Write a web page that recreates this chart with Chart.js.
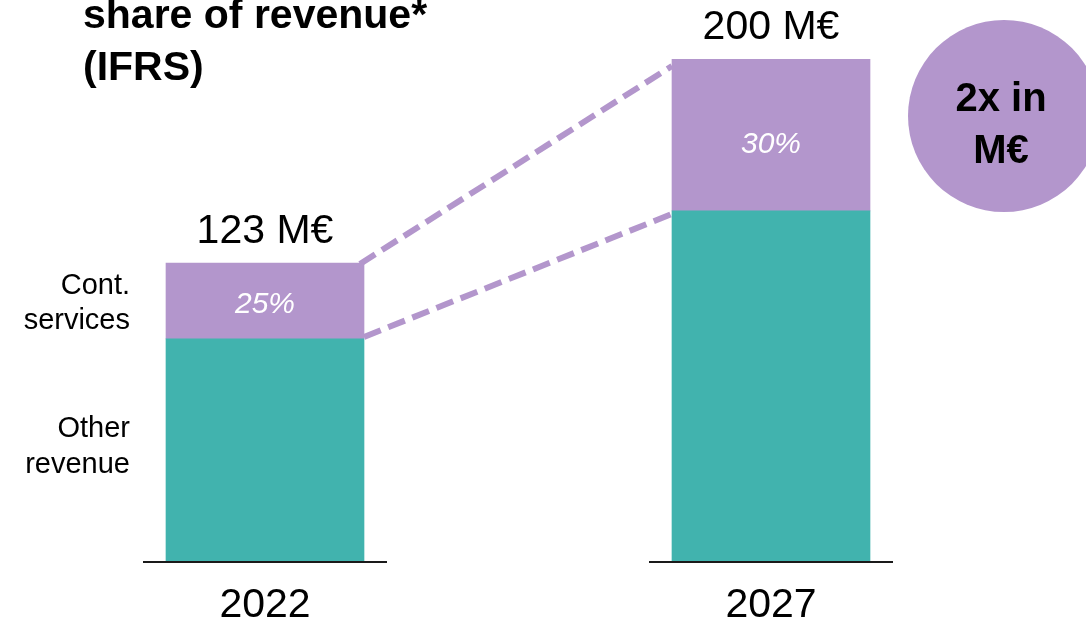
<!DOCTYPE html>
<html><head><meta charset="utf-8">
<script src="https://cdn.jsdelivr.net/npm/chart.js@4"></script>
<style>html,body{margin:0;padding:0;background:#fff;overflow:hidden;} canvas{display:block;}</style>
</head><body>
<canvas id="c" width="1086" height="620"></canvas>
<script>
const categories = ['2022', '2027'];
const otherRevenue = [88.7, 139.6];
const contServices = [30.2, 60.4];
const totalLabels = ['123 M€', '200 M€'];
const shareLabels = ['25%', '30%'];
const seriesNames = ['Other revenue', 'Cont. services'];
const seriesLabelLines = [['Other', 'revenue'], ['Cont.', 'services']];
const titleLines = ['share of revenue*', '(IFRS)'];
const badgeLines = ['2x in', 'M€'];
const yMax = 200;

const TEAL = '#41B3AE', PURPLE = '#B396CC';
const FONT = '"Liberation Sans", Arial, Helvetica, sans-serif';

const overlay = {
  id: 'overlay',
  beforeDraw(chart) {
    const ctx = chart.ctx;
    ctx.save();
    ctx.fillStyle = '#fff';
    ctx.fillRect(0, 0, chart.width, chart.height);
    ctx.fillStyle = '#000';
    ctx.font = 'bold 41px ' + FONT;
    ctx.textAlign = 'left';
    ctx.textBaseline = 'alphabetic';
    ctx.fillText(titleLines[0], 83, 28);
    ctx.fillText(titleLines[1], 83, 80);
    ctx.fillStyle = PURPLE;
    ctx.beginPath();
    ctx.arc(1004, 116, 96, 0, Math.PI * 2);
    ctx.fill();
    ctx.fillStyle = '#000';
    ctx.font = 'bold 40px ' + FONT;
    ctx.textAlign = 'center';
    ctx.fillText(badgeLines[0], 1001, 111);
    ctx.fillText(badgeLines[1], 1001, 163);
    ctx.restore();
  },
  beforeDatasetsDraw(chart) {
    const ctx = chart.ctx;
    const m = chart.getDatasetMeta(1);
    const b0 = m.data[0], b1 = m.data[1];
    const r0 = b0.x + b0.width / 2, l1 = b1.x - b1.width / 2;
    ctx.save();
    ctx.strokeStyle = PURPLE;
    ctx.lineWidth = 6;
    ctx.setLineDash([18, 8]);
    ctx.beginPath(); ctx.moveTo(r0 - 4, b0.y + 1); ctx.lineTo(l1, b1.y + 7); ctx.stroke();
    ctx.beginPath(); ctx.moveTo(r0, b0.base - 2); ctx.lineTo(l1, b1.base + 3); ctx.stroke();
    ctx.restore();
  },
  afterDatasetsDraw(chart) {
    const ctx = chart.ctx;
    const mOther = chart.getDatasetMeta(0), mCont = chart.getDatasetMeta(1);
    ctx.save();
    ctx.strokeStyle = '#1a1a1a';
    ctx.lineWidth = 2;
    mOther.data.forEach(b => {
      const y = b.base;
      ctx.beginPath();
      ctx.moveTo(b.x - b.width / 2 - 23, y);
      ctx.lineTo(b.x + b.width / 2 + 23, y);
      ctx.stroke();
    });
    ctx.fillStyle = '#000';
    ctx.font = '41px ' + FONT;
    ctx.textAlign = 'center';
    ctx.textBaseline = 'alphabetic';
    mCont.data.forEach((b, i) => ctx.fillText(totalLabels[i], b.x, b.y - 20));
    ctx.fillStyle = '#fff';
    ctx.font = 'italic 30px ' + FONT;
    ctx.textBaseline = 'middle';
    mCont.data.forEach((b, i) => ctx.fillText(shareLabels[i], b.x, (b.y + b.base) / 2 + 4 + i * 6));
    ctx.fillStyle = '#000';
    ctx.font = '29px ' + FONT;
    ctx.textAlign = 'right';
    ctx.textBaseline = 'alphabetic';
    const bc = mCont.data[0], bo = mOther.data[0];
    const xr = bc.x - bc.width / 2 - 36;
    const cc = (bc.y + bc.base) / 2;
    ctx.fillText(seriesLabelLines[1][0], xr, cc - 7);
    ctx.fillText(seriesLabelLines[1][1], xr, cc + 28);
    const co = (bo.y + bo.base) / 2;
    ctx.fillText(seriesLabelLines[0][0], xr, co - 13);
    ctx.fillText(seriesLabelLines[0][1], xr, co + 23);
    ctx.restore();
  }
};

new Chart(document.getElementById('c'), {
  type: 'bar',
  data: {
    labels: categories,
    datasets: [
      { label: seriesNames[0], data: otherRevenue, backgroundColor: TEAL, barThickness: 198 },
      { label: seriesNames[1], data: contServices, backgroundColor: PURPLE, barThickness: 198 }
    ]
  },
  options: {
    responsive: false,
    animation: false,
    devicePixelRatio: 1,
    layout: { padding: { top: 59, left: 12, right: 62, bottom: 0 } },
    plugins: { legend: { display: false }, tooltip: { enabled: false }, title: { display: false } },
    scales: {
      x: {
        stacked: true,
        grid: { display: false, drawTicks: false },
        border: { display: false },
        ticks: { color: '#000', font: { family: FONT, size: 41 }, padding: 19, maxRotation: 0 },
        afterFit: s => { s.height = 58; }
      },
      y: { stacked: true, display: false, min: 0, max: yMax }
    }
  },
  plugins: [overlay]
});
</script>
</body></html>
